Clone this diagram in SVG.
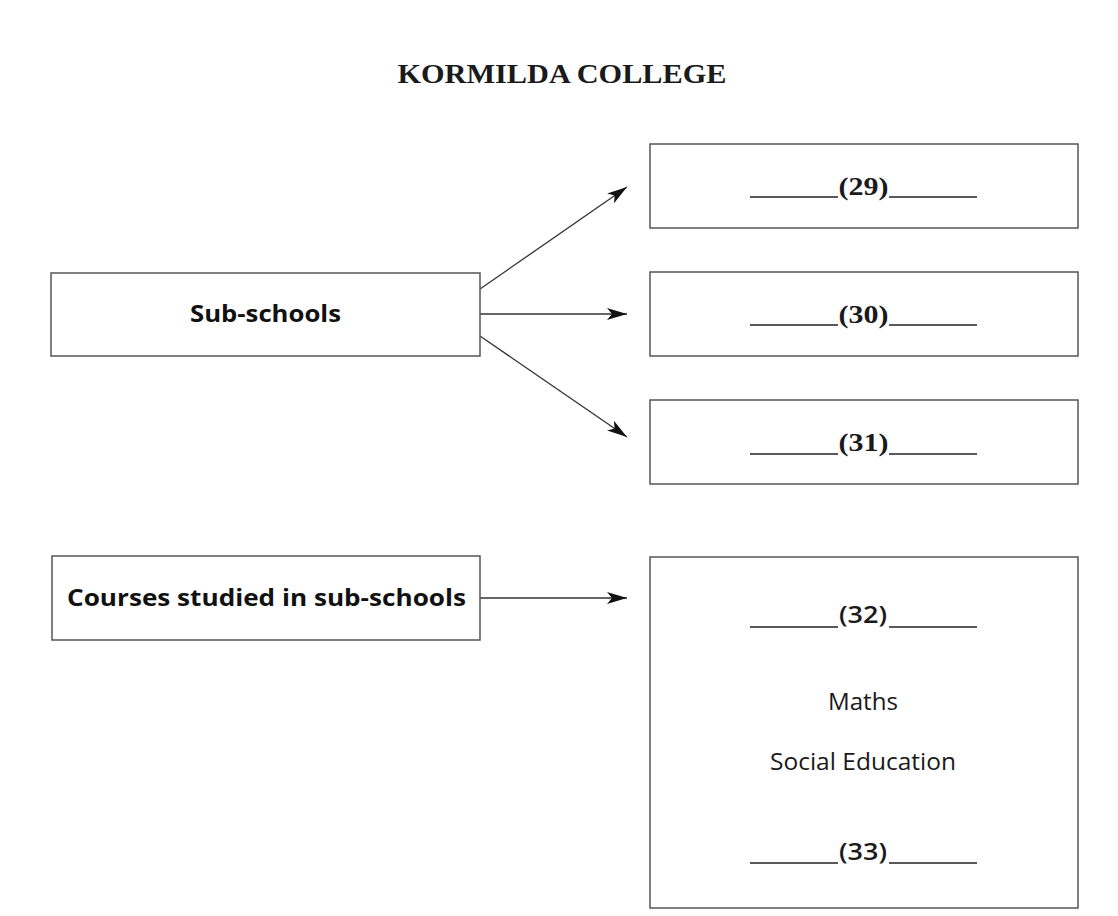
<svg xmlns="http://www.w3.org/2000/svg" width="1118" height="916" viewBox="0 0 1118 916">
<style>
.box{fill:#fff;stroke:#555;stroke-width:1.5}
.conn{stroke:#333;stroke-width:1.3;fill:none}
.title{font-family:"Liberation Serif",serif;font-weight:bold;font-size:27px;fill:#1a1a1a}
.lbl{font-family:"Open Sans","Noto Sans",sans-serif;font-weight:bold;font-size:24px;fill:#111}
.num{font-family:"Liberation Serif",serif;font-weight:bold;font-size:25px;fill:#1a1a1a}
.numS{font-family:"Open Sans","Noto Sans",sans-serif;font-weight:600;font-size:24px;fill:#1a1a1a}
.txt{font-family:"Open Sans","Noto Sans",sans-serif;font-size:24px;fill:#1a1a1a}
.blank{stroke:#222;stroke-width:1.5}
</style>
<defs>
<marker id="ah" viewBox="0 0 20 12" refX="20" refY="6" markerWidth="20" markerHeight="12" markerUnits="userSpaceOnUse" orient="auto">
<path d="M0,0 L20,6 L0,12 L5,6 Z" fill="#111"/>
</marker>
</defs>
<rect width="1118" height="916" fill="#fff"/>
<text class="title" x="562" y="83" text-anchor="middle" textLength="329" lengthAdjust="spacingAndGlyphs">KORMILDA COLLEGE</text>

<g id="connectors">
<line class="conn" x1="480" y1="289" x2="627" y2="187" marker-end="url(#ah)"/>
<line class="conn" x1="480" y1="314" x2="627" y2="314" marker-end="url(#ah)"/>
<line class="conn" x1="480" y1="336" x2="627" y2="437" marker-end="url(#ah)"/>
<line class="conn" x1="480" y1="598" x2="627" y2="598" marker-end="url(#ah)"/>
</g>

<g id="sub-schools">
<rect class="box" x="51" y="273" width="429" height="83"/>
<text class="lbl" x="265.5" y="322" text-anchor="middle" textLength="151" lengthAdjust="spacingAndGlyphs">Sub-schools</text>
</g>

<g id="courses">
<rect class="box" x="52" y="556" width="428" height="84"/>
<text class="lbl" x="266.5" y="606" text-anchor="middle" textLength="399" lengthAdjust="spacingAndGlyphs">Courses studied in sub-schools</text>
</g>

<g id="n29">
<rect class="box" x="650" y="144" width="428" height="84"/>
<line class="blank" x1="750" y1="197" x2="838" y2="197"/>
<text class="num" x="863.5" y="195" text-anchor="middle" textLength="50" lengthAdjust="spacingAndGlyphs">(29)</text>
<line class="blank" x1="889" y1="197" x2="977" y2="197"/>
</g>

<g id="n30">
<rect class="box" x="650" y="272" width="428" height="84"/>
<line class="blank" x1="750" y1="325" x2="838" y2="325"/>
<text class="num" x="863.5" y="323" text-anchor="middle" textLength="50" lengthAdjust="spacingAndGlyphs">(30)</text>
<line class="blank" x1="889" y1="325" x2="977" y2="325"/>
</g>

<g id="n31">
<rect class="box" x="650" y="400" width="428" height="84"/>
<line class="blank" x1="750" y1="454" x2="838" y2="454"/>
<text class="num" x="863.5" y="451" text-anchor="middle" textLength="50" lengthAdjust="spacingAndGlyphs">(31)</text>
<line class="blank" x1="889" y1="454" x2="977" y2="454"/>
</g>

<g id="courses-list">
<rect class="box" x="650" y="557" width="428" height="351"/>
<line class="blank" x1="750" y1="627" x2="838" y2="627"/>
<text class="numS" x="863" y="623" text-anchor="middle" textLength="48" lengthAdjust="spacingAndGlyphs">(32)</text>
<line class="blank" x1="889" y1="627" x2="977" y2="627"/>
<text class="txt" x="863" y="710" text-anchor="middle" textLength="70" lengthAdjust="spacingAndGlyphs">Maths</text>
<text class="txt" x="863" y="770" text-anchor="middle" textLength="186" lengthAdjust="spacingAndGlyphs">Social Education</text>
<line class="blank" x1="750" y1="863" x2="838" y2="863"/>
<text class="numS" x="863" y="860" text-anchor="middle" textLength="48" lengthAdjust="spacingAndGlyphs">(33)</text>
<line class="blank" x1="889" y1="863" x2="977" y2="863"/>
</g>
</svg>
